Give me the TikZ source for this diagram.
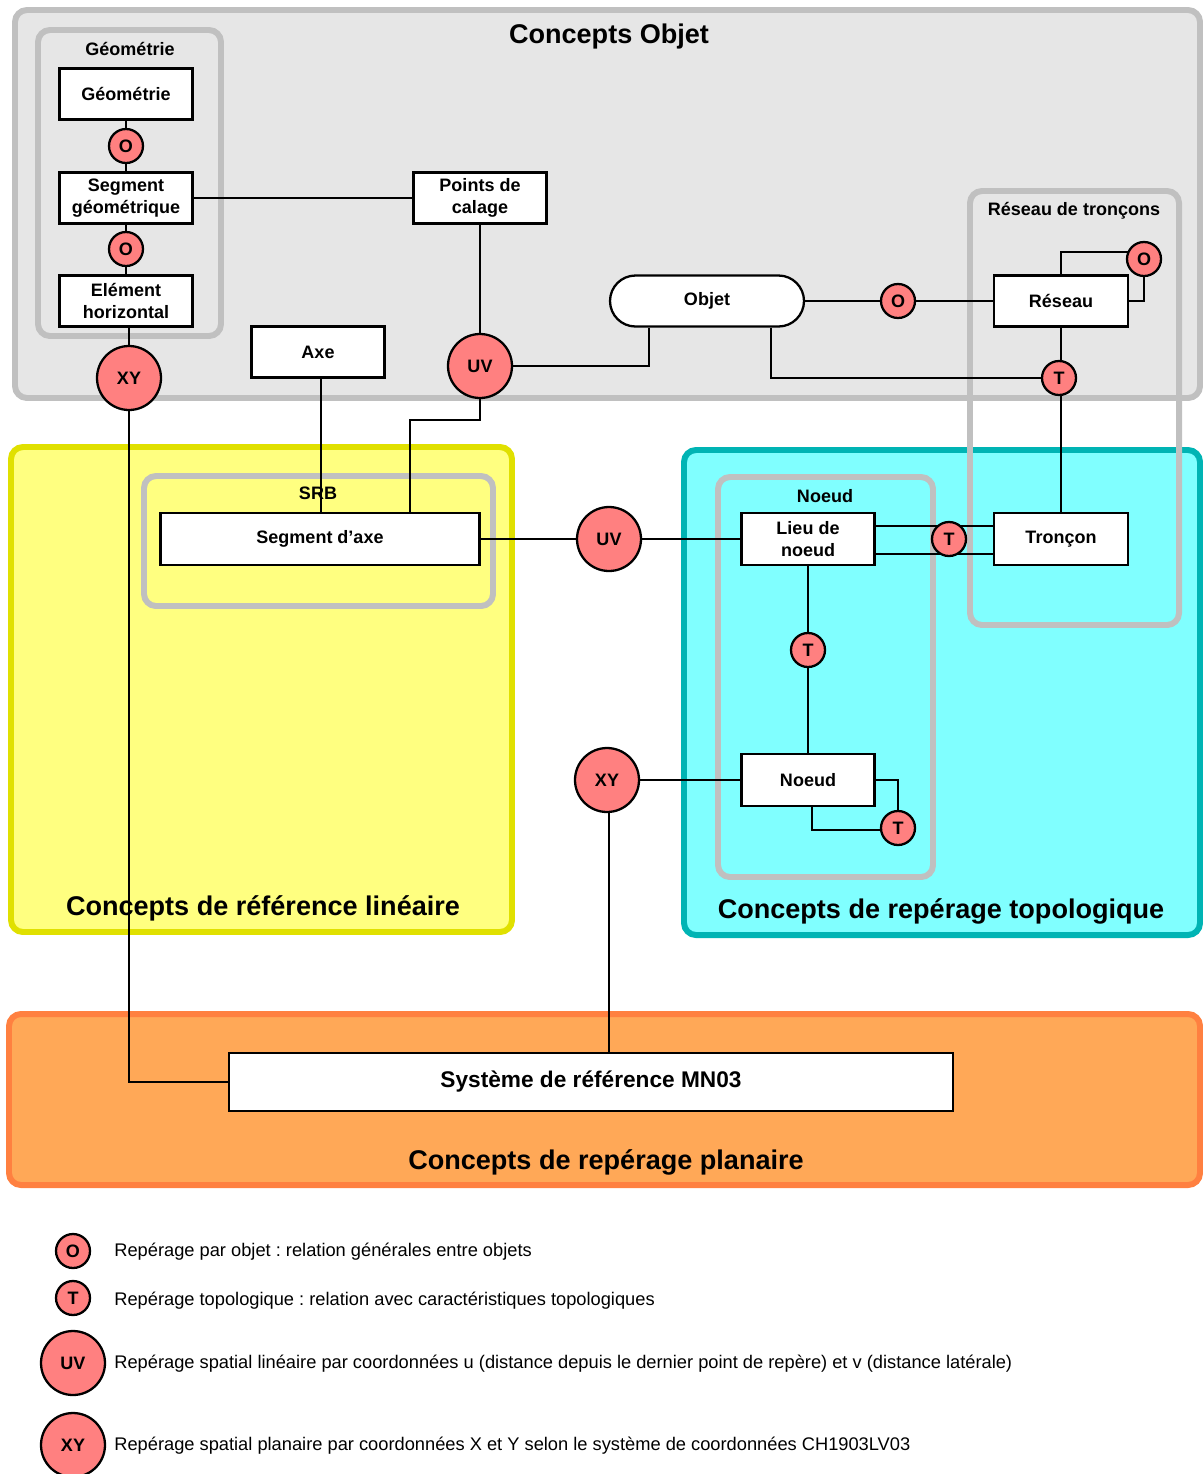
\documentclass[tikz,border=0pt]{standalone}
\usepackage{fontspec}
\setmainfont{Liberation Sans}
\usetikzlibrary{calc}
\pgfdeclarelayer{bg}
\pgfdeclarelayer{edges}
\pgfsetlayers{bg,edges,main}
\frenchspacing

\definecolor{frameGray}{HTML}{C0C0C0}
\definecolor{fillGray}{HTML}{E6E6E6}
\definecolor{linFill}{HTML}{FFFF80}
\definecolor{linLine}{HTML}{E0E000}
\definecolor{topoFill}{HTML}{80FFFF}
\definecolor{topoLine}{HTML}{00B4B4}
\definecolor{planFill}{HTML}{FFA857}
\definecolor{planLine}{HTML}{FF8040}
\definecolor{relRed}{HTML}{FF8080}

\tikzset{
  wh/.style 2 args={minimum width=#1*0.02cm, minimum height=#2*0.02cm},
  box/.style={draw, fill=white, line width=1.3pt, inner sep=0pt, align=center,
    font=\bfseries\fontsize{10.25}{12.4}\selectfont},
  rel/.style={circle, draw, fill=relRed, line width=1.3pt, inner sep=0pt,
    font=\bfseries\fontsize{10.25}{12}\selectfont},
  small/.style={rel, minimum size=0.68cm},
  big/.style={rel, minimum size=1.28cm},
  frame/.style={line width=3.4pt, rounded corners=0.24cm},
  grp/.style={frame, draw=frameGray},
  grplabel/.style={font=\bfseries\fontsize{10.25}{12}\selectfont},
  areatitle/.style={font=\bfseries\fontsize{15.4}{18}\selectfont},
  legend/.style={anchor=west, inner xsep=0pt, font=\fontsize{10.4}{12}\selectfont},
  link/.style={line width=1.2pt},
}

\begin{document}
\begin{tikzpicture}[x=0.02cm, y=-0.02cm]
\useasboundingbox (0,0) rectangle (1203,1474);

% ---- areas and groups ----
\begin{pgfonlayer}{bg}
  \fill[white] (0,0) rectangle (1203,1474);
  \draw[frame, draw=frameGray, fill=fillGray] (15,10) rectangle (1200,398);
  \draw[frame, draw=linLine, fill=linFill] (11,447) rectangle (512,932);
  \draw[frame, draw=topoLine, fill=topoFill] (684,450) rectangle (1200,935);
  \draw[frame, draw=planLine, fill=planFill] (9,1014) rectangle (1200,1185);

  \draw[grp] (38,30) rectangle (221,336);
  \draw[grp] (144,476) rectangle (493,606);
  \draw[grp] (718,477) rectangle (933,877);
  \draw[grp] (970,191) rectangle (1179,625);

  \node[areatitle] (tobj) at (609,37) {Concepts Objet};
  \node[areatitle] (tlin) at (263,908) {Concepts de référence linéaire};
  \node[areatitle] (ttopo) at (941,911) {Concepts de repérage topologique};
  \node[areatitle] (tplan) at (606,1162) {Concepts de repérage planaire};

  \node[grplabel] (lgeo) at (130,49) {Géométrie};
  \node[grplabel] (lres) at (1074,211) {Réseau de tronçons};
  \node[grplabel] (lsrb) at (318,493) {SRB};
  \node[grplabel] (lnoeud) at (825,496) {Noeud};
\end{pgfonlayer}

% ---- concepts ----
\node[box, wh={133}{51}] (geo) at (126,94) {Géométrie};
\node[small] (o1) at (126,146) {O};
\node[box, wh={133}{51}] (seg) at (126,198) {Segment\\géométrique};
\node[small] (o2) at (126,249) {O};
\node[box, wh={133}{51}] (elem) at (126,301) {Elément\\horizontal};
\node[big] (xy1) at (129,378) {XY};

\node[box, wh={133}{51}] (pts) at (480,198) {Points de\\calage};
\node[big] (uv1) at (480,366) {UV};
\node[box, rounded corners=0.51cm, wh={194}{51}] (obj) at (707,301) {Objet};
\node[small] (o3) at (898,301) {O};
\node[box, wh={134}{51}] (res) at (1061,301) {Réseau};
\node[small] (o4) at (1144,259) {O};
\node[small] (t1) at (1059,378) {T};
\node[box, wh={133}{51}] (axe) at (318,352) {Axe};

\node[box, wh={319}{52}] (sega) at (320,539) {Segment d’axe};
\node[big] (uv2) at (609,539) {UV};
\node[box, wh={133}{52}] (lieu) at (808,539) {Lieu de\\noeud};
\node[small] (t2) at (949,539) {T};
\node[box, wh={134}{52}] (tron) at (1061,539) {Tronçon};
\node[small] (t3) at (808,650) {T};
\node[box, wh={133}{52}] (noeud) at (808,780) {Noeud};
\node[small] (t4) at (898,828) {T};
\node[big] (xy2) at (607,780) {XY};

\node[box, wh={724}{58}, font=\bfseries\fontsize{12.9}{15}\selectfont] (sys) at (591,1082) {Système de référence MN03};

% ---- legend ----
\node[small] (lo) at (73,1251) {O};
\node[legend] (lot) at (114,1252) {Repérage par objet : relation générales entre objets};
\node[small] (lt) at (73,1298) {T};
\node[legend] (ltt) at (114,1301) {Repérage topologique : relation avec caractéristiques topologiques};
\node[big] (luv) at (73,1363) {UV};
\node[legend] (luvt) at (114,1364) {Repérage spatial linéaire par coordonnées u (distance depuis le dernier point de repère) et v (distance latérale)};
\node[big] (lxy) at (73,1445) {XY};
\node[legend] (lxyt) at (114,1446) {Repérage spatial planaire par coordonnées X et Y selon le système de coordonnées CH1903LV03};

% ---- relations ----
\begin{pgfonlayer}{edges}
  \draw[link] (geo) -- (o1) -- (seg) -- (o2) -- (elem);
  \draw[link] (xy1) -- (xy1 |- elem.south);
  \draw[link] (xy1) |- (sys.west);
  \draw[link] (seg) -- (pts);
  \draw[link] (pts) -- (uv1);
  \draw[link] (uv1) -| ([xshift=-1.16cm]obj.south);
  \draw[link] ([xshift=1.28cm]obj.south) |- (t1);
  \draw[link] (obj) -- (o3) -- (res);
  \draw[link] (res.south) -- (res.south |- t1);
  \draw[link] (tron.north) -- (tron.north |- t1);
  \draw[link] (res.north) |- ([yshift=0.14cm]o4.center);
  \draw[link] (res.east) -| (o4);
  \draw[link] ([xshift=0.06cm]axe.south) -- ([xshift=0.06cm]axe.south |- sega.north);
  \coordinate (uvbend) at (410,420);
  \draw[link] (uv1) |- (uvbend) -- (uvbend |- sega.north);
  \draw[link] (sega) -- (uv2) -- (lieu);
  \draw[link] ([yshift=-0.28cm]lieu.north east) -- ([yshift=-0.28cm]tron.north west);
  \draw[link] ([yshift=0.24cm]lieu.south east) -- ([yshift=0.24cm]tron.south west);
  \draw[link] (lieu) -- (t3) -- (noeud);
  \draw[link] (xy2) -- (noeud);
  \draw[link] ([xshift=0.04cm]xy2.center) -- ([xshift=0.04cm]xy2.center |- sys.north);
  \draw[link] (noeud.east) -| (t4);
  \draw[link] ([xshift=0.08cm]noeud.south) |- ([yshift=-0.04cm]t4.center);
\end{pgfonlayer}
\end{tikzpicture}
\end{document}
